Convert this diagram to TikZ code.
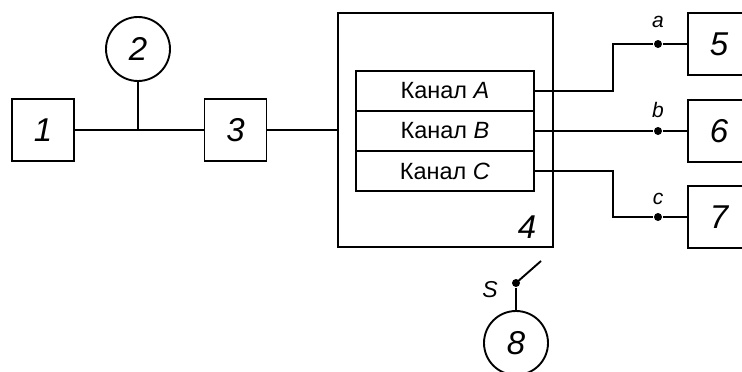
\documentclass[tikz,border=0pt]{standalone}
\usepackage{fontspec}
\setmainfont{Liberation Sans}
\usepackage{tikz}
\usepackage{xcolor}

\begin{document}
\begin{tikzpicture}[x=1pt,y=-1pt,line width=1.9pt,
  blk/.style={draw, minimum width=62pt, minimum height=62pt, inner sep=0pt, font=\fontsize{33}{33}\selectfont\itshape},
  crc/.style={draw, circle, minimum size=64pt, inner sep=0pt, font=\fontsize{33}{33}\selectfont\itshape},
  chan/.style={draw, minimum width=178pt, minimum height=40pt, inner sep=0pt, font=\fontsize{23.5}{23.5}\selectfont},
  pin/.style={circle, fill, minimum size=8pt, inner sep=0pt},
  lbl/.style={font=\fontsize{21}{21}\selectfont\itshape}]
\useasboundingbox (0,0) rectangle (742,372);

\node[blk] (b1) at (43,130) {1};
\node[crc] (c2) at (138,49) {2};
\node[blk] (b3) at (235.5,130) {3};
\node[draw, minimum width=215pt, minimum height=234pt, inner sep=0pt] (b4) at (445.5,130) {};
\node[font=\fontsize{33}{33}\selectfont\itshape] (n4) at (527,227) {4};

\node[chan] (chA) at (445,91) {Канал \textit{A}};
\node[chan] (chB) at (445,131) {Канал \textit{B}};
\node[chan] (chC) at (445,171) {Канал \textit{C}};

\node[blk] (b5) at (719,44) {5};
\node[blk] (b6) at (719,131) {6};
\node[blk] (b7) at (719,217) {7};

\node[pin] (pa) at (658,44) {};
\node[pin] (pb) at (658,131) {};
\node[pin] (pc) at (658,217) {};
\node[lbl] (la) at (658,22) {a};
\node[lbl] (lb) at (658,110) {b};
\node[lbl] (lc) at (658,199) {c};

\node[crc] (c8) at (516,343) {8};
\node[pin] (ps) at (516,283) {};
\coordinate (sw) at (541,261);
\node[font=\fontsize{23}{23}\selectfont\itshape] (ls) at (490,290) {S};

\draw (b1) -- (b3);
\draw (c2) -- (c2 |- b1);
\draw (b3) -- (b4.west);

\draw (chA.east) -- ++(78,0) |- (pa) -- (b5.west);
\draw (chB.east) -- (pb) -- (b6.west);
\draw (chC.east) -- ++(78,0) |- (pc) -- (b7.west);

\draw (ps.center) -- (sw);
\draw (ps) -- (c8);

\end{tikzpicture}
\end{document}
